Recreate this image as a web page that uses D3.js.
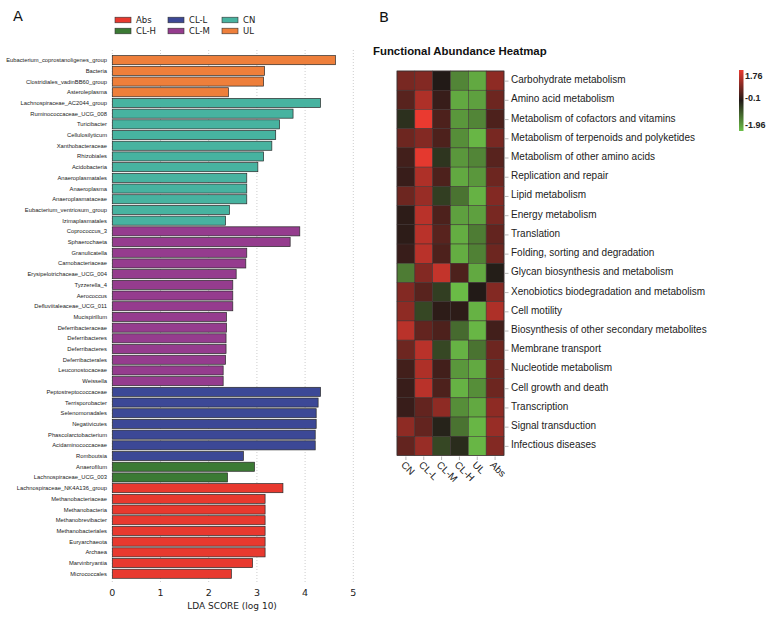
<!DOCTYPE html>
<html>
<head>
<meta charset="utf-8">
<script src="https://cdn.jsdelivr.net/npm/d3@7"></script>
<style>
  body { margin: 0; background: #fff; }
  svg { display: block; }
</style>
</head>
<body>
<svg width="775" height="617"></svg>
<script>
// ---- panel A data (LEfSe) ----
const taxa = [
  "Eubacterium_coprostanoligenes_group", "Bacteria", "Clostridiales_vadinBB60_group", "Asteroleplasma",
  "Lachnospiraceae_AC2044_group", "Ruminococcaceae_UCG_008", "Turicibacter", "Cellulosilyticum",
  "Xanthobacteraceae", "Rhizobiales", "Acidobacteria", "Anaeroplasmatales", "Anaeroplasma",
  "Anaeroplasmataceae", "Eubacterium_ventriosum_group", "Izimaplasmatales",
  "Coprococcus_3", "Sphaerochaeta", "Granulicatella", "Carnobacteriaceae", "Erysipelotrichaceae_UCG_004",
  "Tyzzerella_4", "Aerococcus", "Defluviitaleaceae_UCG_011", "Mucispirillum", "Deferribacteraceae",
  "Deferribacteres", "Deferribacteres", "Deferribacterales", "Leuconostocaceae", "Weissella",
  "Peptostreptococcaceae", "Terrisporobacter", "Selenomonadales", "Negativicutes",
  "Phascolarctobacterium", "Acidaminococcaceae", "Romboutsia",
  "Anaerofilum", "Lachnospiraceae_UCG_003",
  "Lachnospiraceae_NK4A136_group", "Methanobacteriaceae", "Methanobacteria", "Methanobrevibacter",
  "Methanobacteriales", "Euryarchaeota", "Archaea", "Marvinbryantia", "Micrococcales"
];
const taxaGroup = [
  "UL", "UL", "UL", "UL",
  "CN", "CN", "CN", "CN", "CN", "CN", "CN", "CN", "CN", "CN", "CN", "CN",
  "CL-M", "CL-M", "CL-M", "CL-M", "CL-M", "CL-M", "CL-M", "CL-M", "CL-M", "CL-M",
  "CL-M", "CL-M", "CL-M", "CL-M", "CL-M",
  "CL-L", "CL-L", "CL-L", "CL-L", "CL-L", "CL-L", "CL-L",
  "CL-H", "CL-H",
  "Abs", "Abs", "Abs", "Abs", "Abs", "Abs", "Abs", "Abs", "Abs"
];
const ldaScore = [
  4.63, 3.16, 3.14, 2.41,
  4.32, 3.75, 3.47, 3.39, 3.31, 3.14, 3.02, 2.79, 2.79, 2.79, 2.43, 2.35,
  3.89, 3.69, 2.79, 2.77, 2.57, 2.50, 2.50, 2.50, 2.37, 2.37, 2.36, 2.36, 2.35, 2.30, 2.30,
  4.32, 4.27, 4.23, 4.23, 4.21, 4.21, 2.72,
  2.95, 2.39,
  3.54, 3.17, 3.17, 3.17, 3.17, 3.17, 3.17, 2.91, 2.47
];
const legendGroups = ["Abs", "CL-H", "CL-L", "CL-M", "CN", "UL"];
const groupColors = ["#e8392f", "#3b7a34", "#3c4896", "#953c8e", "#47b3a0", "#ee7f3b"];
const xTicks = [0, 1, 2, 3, 4, 5];

// ---- panel B data (heatmap) ----
const pathways = [
  "Carbohydrate metabolism", "Amino acid metabolism", "Metabolism of cofactors and vitamins",
  "Metabolism of terpenoids and polyketides", "Metabolism of other amino acids", "Replication and repair",
  "Lipid metabolism", "Energy metabolism", "Translation", "Folding, sorting and degradation",
  "Glycan biosynthesis and metabolism", "Xenobiotics biodegradation and metabolism", "Cell motility",
  "Biosynthesis of other secondary metabolites", "Membrane transport", "Nucleotide metabolism",
  "Cell growth and death", "Transcription", "Signal transduction", "Infectious diseases"
];
const heatGroups = ["CN", "CL-L", "CL-M", "CL-H", "UL", "Abs"];
const heatValues = [
  [0.7, 0.8, -0.1, -1.3, -1.7, 0.9],
  [0.4, 1.2, 0.1, -1.7, -1.6, 0.6],
  [-0.35, 1.76, 0.3, -1.5, -1.3, 0.3],
  [0.6, 0.8, 0.3, -1.4, -1.85, 0.7],
  [0.2, 1.7, -0.4, -1.5, -1.3, 0.4],
  [0.1, 1.2, 0.3, -1.7, -1.5, 0.6],
  [0.6, 1.0, -0.5, -1.1, -1.8, 0.8],
  [0.0, 1.3, 0.3, -1.6, -1.6, 0.7],
  [0.0, 1.3, 0.4, -1.75, -1.2, 0.5],
  [0.1, 1.3, 0.3, -1.75, -1.25, 0.6],
  [-1.2, 0.8, 1.4, 0.3, -1.7, -0.15],
  [0.8, 0.4, -0.5, -1.9, -0.1, 0.8],
  [0.9, -0.6, 0.0, 0.0, -1.8, 1.2],
  [1.3, 0.5, 0.3, -1.0, -1.85, 0.2],
  [0.6, 1.3, -0.6, -1.8, -1.1, 0.6],
  [0.2, 1.2, 0.2, -1.5, -1.7, 0.6],
  [0.1, 1.3, 0.3, -1.8, -1.4, 0.6],
  [0.1, 0.5, 0.9, -1.4, -1.7, 0.9],
  [0.9, 0.5, -0.2, -1.1, -1.85, 1.0],
  [0.5, 1.0, -0.6, -0.3, -1.85, 0.8]
];
const colorStops = [-1.96, -0.1, 1.76];

const svg = d3.select("svg");

// ================= Panel A =================
const rows = taxa.map((t, i) => ({ i, name: t, group: taxaGroup[i], value: ldaScore[i] }));
const groupColor = d3.scaleOrdinal().domain(legendGroups).range(groupColors);

const xScale = d3.scaleLinear().domain([0, 5]).range([112.3, 353.3]);
const yScale = d3.scaleBand()
  .domain(rows.map((d) => d.i))
  .range([54.8, 54.8 + 49 * 10.7])
  .paddingInner(0.15)
  .paddingOuter(0.075);

const gA = svg.append("g");

// dotted grid
gA.selectAll("line.grid")
  .data(xTicks)
  .join("line")
  .attr("class", "grid")
  .attr("x1", (d) => xScale(d))
  .attr("x2", (d) => xScale(d))
  .attr("y1", 50)
  .attr("y2", 584)
  .attr("stroke", "#b8b8b8")
  .attr("stroke-width", 0.7)
  .attr("stroke-dasharray", "1,2");

gA.selectAll("rect.bar")
  .data(rows)
  .join("rect")
  .attr("class", "bar")
  .attr("x", xScale(0))
  .attr("y", (d) => yScale(d.i))
  .attr("width", (d) => xScale(d.value) - xScale(0))
  .attr("height", yScale.bandwidth())
  .attr("fill", (d) => groupColor(d.group))
  .attr("stroke", "#2a2a2a")
  .attr("stroke-width", 0.7);

gA.selectAll("text.taxon")
  .data(rows)
  .join("text")
  .attr("class", "taxon")
  .attr("x", 107)
  .attr("y", (d) => yScale(d.i) + yScale.bandwidth() / 2)
  .attr("dy", "0.35em")
  .attr("text-anchor", "end")
  .attr("font-family", "Liberation Sans, Arial, sans-serif")
  .attr("font-size", 5.8)
  .attr("fill", "#222")
  .text((d) => d.name);

// x axis labels
gA.selectAll("text.xtick")
  .data(xTicks)
  .join("text")
  .attr("class", "xtick")
  .attr("x", (d) => xScale(d))
  .attr("y", 595.5)
  .attr("text-anchor", "middle")
  .attr("font-family", "DejaVu Sans, sans-serif")
  .attr("font-size", 9.5)
  .attr("fill", "#222")
  .text((d) => d);

gA.append("text")
  .attr("x", 232)
  .attr("y", 608.5)
  .attr("text-anchor", "middle")
  .attr("font-family", "DejaVu Sans, sans-serif")
  .attr("font-size", 9)
  .attr("fill", "#222")
  .text("LDA SCORE (log 10)");

// legend: 3 columns x 2 rows
const legendX = [115, 168, 222];
const legendY = [20, 31];
const legend = gA.selectAll("g.leg")
  .data(legendGroups)
  .join("g")
  .attr("class", "leg")
  .attr("transform", (d, i) => `translate(${legendX[Math.floor(i / 2)]},${legendY[i % 2]})`);
legend.append("rect")
  .attr("x", 0).attr("y", -2.8)
  .attr("width", 16).attr("height", 5.6)
  .attr("fill", (d) => groupColor(d))
  .attr("stroke", "#333").attr("stroke-width", 0.6);
legend.append("text")
  .attr("x", 21).attr("dy", "0.35em")
  .attr("font-family", "DejaVu Sans, sans-serif")
  .attr("font-size", 8.5)
  .attr("fill", "#222")
  .text((d) => d);

svg.append("text")
  .attr("x", 13).attr("y", 21)
  .attr("font-family", "DejaVu Sans, sans-serif")
  .attr("font-size", 14.5)
  .attr("fill", "#111")
  .text("A");

// ================= Panel B =================
const heatColor = d3.scaleLinear()
  .domain(colorStops)
  .range(["#6cc048", "#221a17", "#ea3a30"]);

const hx = d3.scaleBand().domain(heatGroups).range([397, 504]);
const hy = d3.scaleBand().domain(pathways).range([71, 455.5]);

const gB = svg.append("g");

svg.append("text")
  .attr("x", 379).attr("y", 21.5)
  .attr("font-family", "DejaVu Sans, sans-serif")
  .attr("font-size", 14.5)
  .attr("fill", "#111")
  .text("B");

gB.append("text")
  .attr("x", 373).attr("y", 55)
  .attr("font-family", "Liberation Sans, Arial, sans-serif")
  .attr("font-weight", "bold")
  .attr("font-size", 11.4)
  .attr("fill", "#111")
  .text("Functional Abundance Heatmap");

const cells = [];
pathways.forEach((p, r) => heatGroups.forEach((g, c) => cells.push({ p, g, v: heatValues[r][c] })));

gB.selectAll("rect.cell")
  .data(cells)
  .join("rect")
  .attr("class", "cell")
  .attr("x", (d) => hx(d.g))
  .attr("y", (d) => hy(d.p))
  .attr("width", hx.bandwidth())
  .attr("height", hy.bandwidth())
  .attr("fill", (d) => heatColor(d.v))
  .attr("stroke", "#3a3030")
  .attr("stroke-width", 0.5);

gB.append("rect")
  .attr("x", 397).attr("y", 71)
  .attr("width", 107).attr("height", 384.5)
  .attr("fill", "none")
  .attr("stroke", "#3a3030")
  .attr("stroke-width", 0.6);

// row ticks + labels
gB.selectAll("line.rtick")
  .data(pathways)
  .join("line")
  .attr("class", "rtick")
  .attr("x1", 505).attr("x2", 508.5)
  .attr("y1", (d) => hy(d) + hy.bandwidth() / 2 + 0.5)
  .attr("y2", (d) => hy(d) + hy.bandwidth() / 2 + 0.5)
  .attr("stroke", "#888").attr("stroke-width", 0.6);

gB.selectAll("text.rlab")
  .data(pathways)
  .join("text")
  .attr("class", "rlab")
  .attr("x", 511)
  .attr("y", (d) => hy(d) + hy.bandwidth() / 2 - 1)
  .attr("dy", "0.35em")
  .attr("font-family", "Liberation Sans, Arial, sans-serif")
  .attr("font-size", 10)
  .attr("fill", "#222")
  .text((d) => d);

// column ticks + rotated labels
gB.selectAll("line.ctick")
  .data(heatGroups)
  .join("line")
  .attr("class", "ctick")
  .attr("x1", (d) => hx(d) + hx.bandwidth() / 2)
  .attr("x2", (d) => hx(d) + hx.bandwidth() / 2)
  .attr("y1", 456.5).attr("y2", 460)
  .attr("stroke", "#888").attr("stroke-width", 0.6);

gB.selectAll("text.clab")
  .data(heatGroups)
  .join("text")
  .attr("class", "clab")
  .attr("transform", (d) => `translate(${hx(d) + hx.bandwidth() / 2 - 3},${463}) rotate(45)`)
  .attr("dy", "0.35em")
  .attr("font-family", "Liberation Sans, Arial, sans-serif")
  .attr("font-size", 10)
  .attr("fill", "#222")
  .text((d) => d);

// color bar
const defs = svg.append("defs");
const grad = defs.append("linearGradient")
  .attr("id", "cbar")
  .attr("x1", 0).attr("y1", 1).attr("x2", 0).attr("y2", 0);
grad.selectAll("stop")
  .data(colorStops)
  .join("stop")
  .attr("offset", (d) => (d - colorStops[0]) / (colorStops[2] - colorStops[0]))
  .attr("stop-color", (d) => heatColor(d));

gB.append("rect")
  .attr("x", 739).attr("y", 70)
  .attr("width", 4.5).attr("height", 61)
  .attr("fill", "url(#cbar)");

gB.selectAll("text.cb")
  .data(colorStops)
  .join("text")
  .attr("class", "cb")
  .attr("x", 745)
  .attr("y", (d, i) => [125, 97.5, 75.5][i])
  .attr("dy", "0.35em")
  .attr("font-family", "Liberation Sans, Arial, sans-serif")
  .attr("font-weight", "bold")
  .attr("font-size", 9)
  .attr("fill", "#222")
  .text((d) => d);
</script>
</body>
</html>
